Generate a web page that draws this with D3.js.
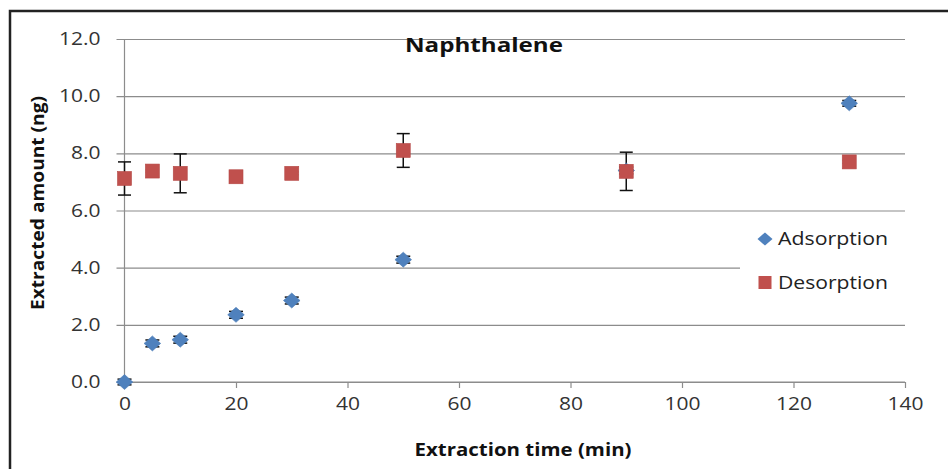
<!DOCTYPE html>
<html>
<head>
<meta charset="utf-8">
<script src="https://cdn.jsdelivr.net/npm/d3@7"></script>
<style>
  html, body { margin: 0; padding: 0; background: #fff; }
  svg { display: block; font-family: "Open Sans", Lato, sans-serif; }
</style>
</head>
<body>
<svg id="chart" width="948" height="469"></svg>
<script>
// Extraction time (min)
const times = [0, 5, 10, 20, 30, 50, 90, 130];
// Extracted amounts (ng)
const adsorption = [0.0, 1.35, 1.48, 2.35, 2.85, 4.28, 7.40, 9.75];
const adsorptionErr = [0.1, 0.12, 0.12, 0.12, 0.12, 0.12, 0.12, 0.1];
const desorption = [7.12, 7.38, 7.30, 7.18, 7.30, 8.10, 7.37, 7.70];
const desorptionErr = [0.58, 0.05, 0.68, 0.15, 0.05, 0.59, 0.67, 0.05];

const xTicks = [0, 20, 40, 60, 80, 100, 120, 140];
const yTicks = [0, 2, 4, 6, 8, 10, 12];
const seriesNames = ["Adsorption", "Desorption"];

const svg = d3.select("#chart");
const x = d3.scaleLinear().domain([0, 140]).range([124.5, 905]);
const y = d3.scaleLinear().domain([0, 12]).range([382, 39]);
const gridColor = "#8c8c8c";
const stretch = "scale(1.2,1)";

// outer frame
svg.append("rect").attr("x", 10).attr("y", 11).attr("width", 960).attr("height", 480)
  .attr("fill", "none").attr("stroke", "#222").attr("stroke-width", 2.5);

// horizontal gridlines with outward ticks
const yAxis = d3.axisLeft(y).tickValues(yTicks).tickFormat(d3.format(".1f"))
  .tickSize(-(x.range()[1] - x.range()[0])).tickPadding(20);
const gy = svg.append("g").attr("transform", `translate(${x(0)},0)`).call(yAxis);
gy.select(".domain").remove();
gy.selectAll(".tick line").attr("stroke", gridColor).attr("x1", -8).attr("stroke-width", 1.2);
gy.selectAll(".tick text").attr("font-size", 17.5).attr("fill", "#333")
  .attr("font-family", "'Open Sans', sans-serif").attr("transform", stretch);

// vertical axis line
svg.append("line").attr("x1", x(0)).attr("x2", x(0)).attr("y1", y(12)).attr("y2", y(0))
  .attr("stroke", gridColor).attr("stroke-width", 1.2);

// x axis
const xAxis = d3.axisBottom(x).tickValues(xTicks).tickSize(6).tickPadding(10);
const gx = svg.append("g").attr("transform", `translate(0,${y(0)})`).call(xAxis);
gx.select(".domain").attr("stroke", gridColor).attr("stroke-width", 1.2)
  .attr("d", `M${x(0)},0H${x(140)}`);
gx.selectAll(".tick line").attr("stroke", gridColor).attr("stroke-width", 1.2);
gx.selectAll(".tick text").attr("font-size", 17.5).attr("fill", "#333")
  .attr("font-family", "'Open Sans', sans-serif").attr("transform", stretch);

// title
svg.append("text").attr("x", 484).attr("y", 52).attr("text-anchor", "middle")
  .attr("font-size", 20).attr("font-weight", "bold").attr("fill", "#111")
  .attr("textLength", 158).attr("lengthAdjust", "spacingAndGlyphs").text("Naphthalene");

// axis titles
svg.append("text").attr("x", 523).attr("y", 456).attr("text-anchor", "middle")
  .attr("font-size", 17).attr("font-weight", "bold").attr("fill", "#111")
  .attr("textLength", 217).attr("lengthAdjust", "spacingAndGlyphs").text("Extraction time (min)");
svg.append("text").attr("transform", "translate(44,203) rotate(-90)").attr("text-anchor", "middle")
  .attr("font-size", 17).attr("font-weight", "bold").attr("fill", "#111")
  .attr("textLength", 214).attr("lengthAdjust", "spacingAndGlyphs").text("Extracted amount (ng)");

// legend background covers the gridline beneath it
svg.append("rect").attr("x", 740).attr("y", 218).attr("width", 165).attr("height", 84).attr("fill", "#fff");

const blue = "#4F81BD", red = "#C0504D";

function errorBars(vals, errs, cap) {
  const g = svg.append("g").attr("stroke", "#111").attr("stroke-width", 1.5).attr("fill", "none");
  times.forEach((t, i) => {
    const cx = x(t), lo = y(vals[i] - errs[i]), hi = y(vals[i] + errs[i]);
    g.append("line").attr("x1", cx).attr("x2", cx).attr("y1", lo).attr("y2", hi);
    g.append("line").attr("x1", cx - cap).attr("x2", cx + cap).attr("y1", lo).attr("y2", lo);
    g.append("line").attr("x1", cx - cap).attr("x2", cx + cap).attr("y1", hi).attr("y2", hi);
  });
}
errorBars(adsorption, adsorptionErr, 7);
errorBars(desorption, desorptionErr, 6.5);

// diamond marker slightly wider than tall
const diamond = "M0,-7.5L8.3,0L0,7.5L-8.3,0Z";
svg.append("g").selectAll("path").data(times).join("path")
  .attr("d", diamond).attr("transform", (t, i) => `translate(${x(t)},${y(adsorption[i])})`)
  .attr("fill", blue).attr("stroke", "#4a7ab5").attr("stroke-width", 0.6);

svg.append("g").selectAll("rect").data(times).join("rect")
  .attr("x", t => x(t) - 7).attr("y", (t, i) => y(desorption[i]) - 7)
  .attr("width", 14).attr("height", 14).attr("fill", red).attr("stroke", "#b54845").attr("stroke-width", 0.6);

// legend
const lg = svg.append("g");
lg.append("path").attr("d", "M0,-6.5L7.5,0L0,6.5L-7.5,0Z").attr("transform", "translate(765,239)")
  .attr("fill", blue);
lg.append("rect").attr("x", 758.5).attr("y", 276).attr("width", 13).attr("height", 13).attr("fill", red);
lg.selectAll("text").data(seriesNames).join("text")
  .attr("x", 778).attr("y", (d, i) => 245 + i * 44)
  .attr("font-size", 18).attr("fill", "#222")
  .attr("textLength", 110).attr("lengthAdjust", "spacingAndGlyphs").text(d => d);
</script>
</body>
</html>
